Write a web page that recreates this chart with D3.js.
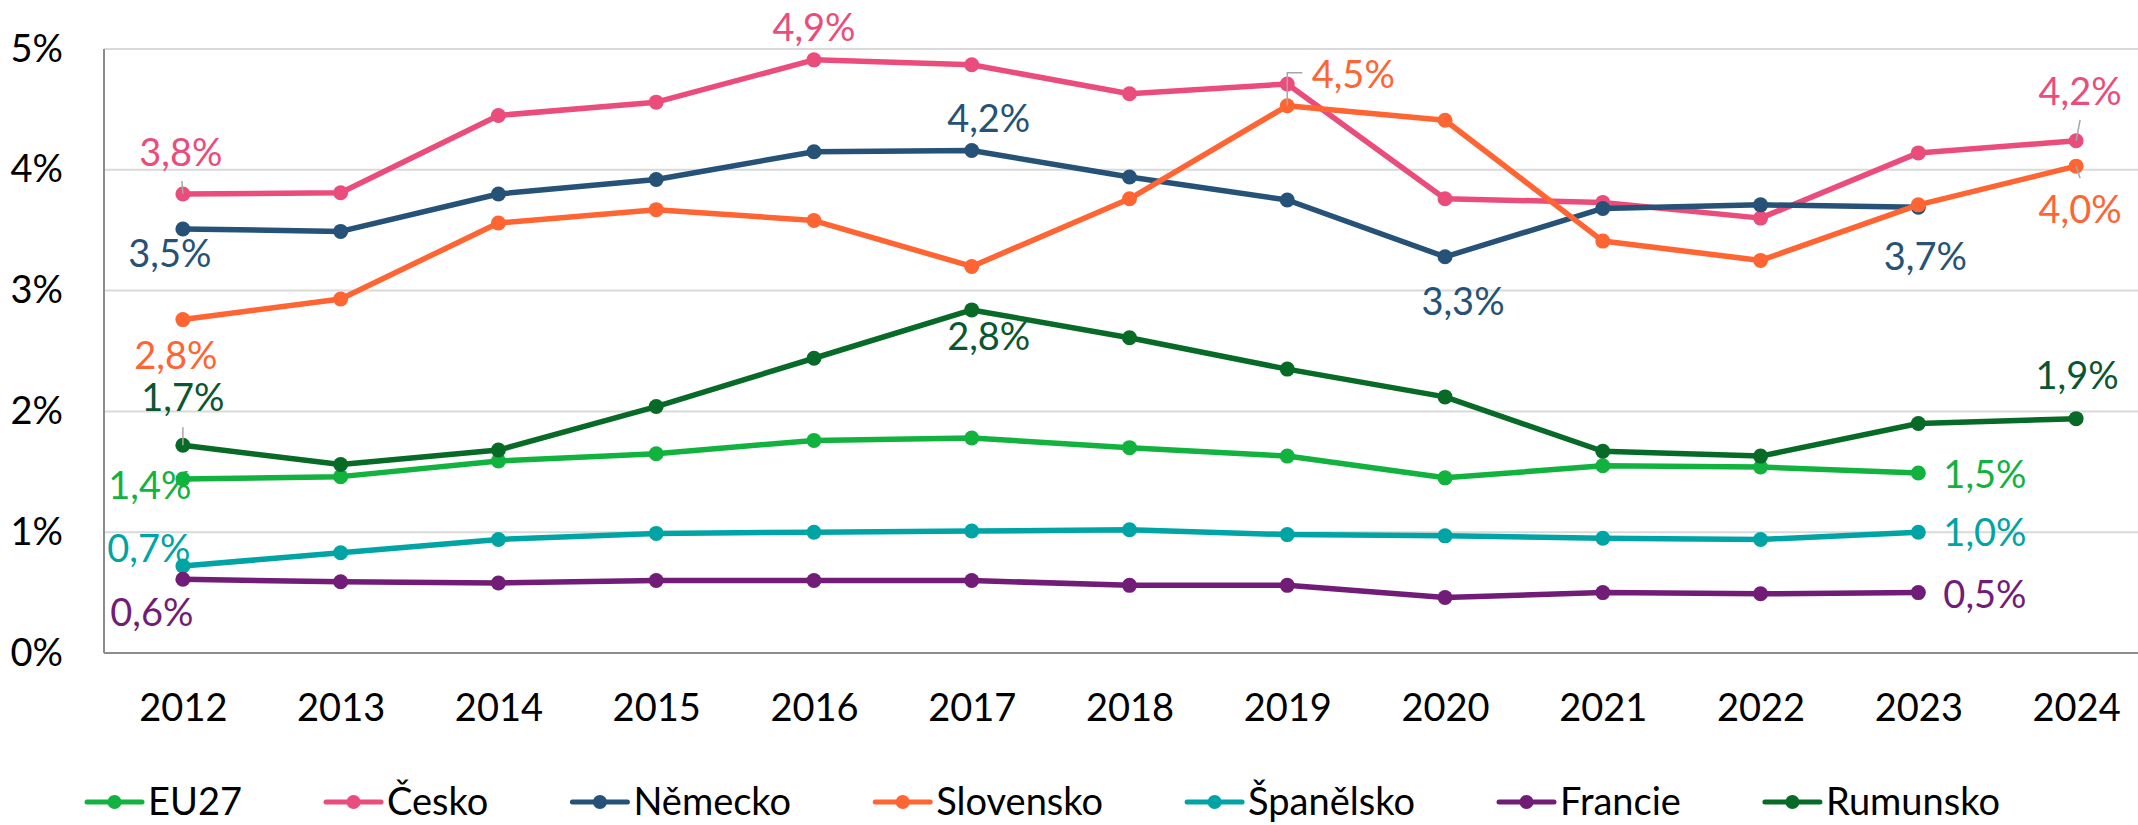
<!DOCTYPE html>
<html>
<head>
<meta charset="utf-8">
<script src="https://cdn.jsdelivr.net/npm/d3@7"></script>
<style>
  body { margin: 0; background: #fff; }
  svg { display: block; font-family: Lato, "Open Sans", sans-serif; }
</style>
</head>
<body>
<svg id="chart" width="2138" height="825"></svg>
<script>
// values in %, null where the year is missing
const years = [2012, 2013, 2014, 2015, 2016, 2017, 2018, 2019, 2020, 2021, 2022, 2023, 2024];
const eu27      = [1.44, 1.46, 1.59, 1.65, 1.76, 1.78, 1.70, 1.63, 1.45, 1.55, 1.54, 1.49, null];
const cesko     = [3.80, 3.81, 4.45, 4.56, 4.91, 4.87, 4.63, 4.71, 3.76, 3.73, 3.60, 4.14, 4.24];
const nemecko   = [3.51, 3.49, 3.80, 3.92, 4.15, 4.16, 3.94, 3.75, 3.28, 3.68, 3.71, 3.69, null];
const slovensko = [2.76, 2.93, 3.56, 3.67, 3.58, 3.20, 3.76, 4.53, 4.41, 3.41, 3.25, 3.71, 4.03];
const spanelsko = [0.72, 0.83, 0.94, 0.99, 1.00, 1.01, 1.02, 0.98, 0.97, 0.95, 0.94, 1.00, null];
const francie   = [0.61, 0.59, 0.58, 0.60, 0.60, 0.60, 0.56, 0.56, 0.46, 0.50, 0.49, 0.50, null];
const rumunsko  = [1.72, 1.56, 1.68, 2.04, 2.44, 2.84, 2.61, 2.35, 2.12, 1.67, 1.63, 1.90, 1.94];
const yTicks = [0, 1, 2, 3, 4, 5];

const series = [
  { name: 'EU27',      values: eu27,      color: '#12B23F', text: '#12B23F' },
  { name: 'Česko',     values: cesko,     color: '#EA4D7C', text: '#EA4D7C' },
  { name: 'Německo',   values: nemecko,   color: '#255276', text: '#255276' },
  { name: 'Slovensko', values: slovensko, color: '#FF6433', text: '#FF6433' },
  { name: 'Španělsko', values: spanelsko, color: '#00A4A4', text: '#00A4A4' },
  { name: 'Francie',   values: francie,   color: '#711D78', text: '#711D78' },
  { name: 'Rumunsko',  values: rumunsko,  color: '#086A27', text: '#0B5632' }
];

// where the data labels sit, relative to their point
const labelSpots = [
  { s: 'Česko', year: 2012, dx: -2, dy: -28, leader: [[0, 0], [-1, -13]] },
  { s: 'Česko', year: 2016, dx: 0, dy: -19 },
  { s: 'Česko', year: 2024, dx: 4, dy: -36, leader: [[0, 0], [4, -21]] },
  { s: 'Německo', year: 2012, dx: -13, dy: 38 },
  { s: 'Německo', year: 2017, dx: 17, dy: -18 },
  { s: 'Německo', year: 2020, dx: 18, dy: 58 },
  { s: 'Německo', year: 2023, dx: 7, dy: 63 },
  { s: 'Slovensko', year: 2012, dx: -7, dy: 49 },
  { s: 'Slovensko', year: 2019, dx: 66, dy: -18, leader: [[0, 0], [0, -33], [15, -33]] },
  { s: 'Slovensko', year: 2024, dx: 4, dy: 57, leader: [[0, 0], [4, 12]] },
  { s: 'Rumunsko', year: 2012, dx: 0, dy: -34, leader: [[0, 0], [0, -18]] },
  { s: 'Rumunsko', year: 2017, dx: 17, dy: 40 },
  { s: 'Rumunsko', year: 2024, dx: 1, dy: -30 },
  { s: 'EU27', year: 2012, dx: -33, dy: 20 },
  { s: 'EU27', year: 2023, dx: 25, dy: 15, anchor: 'start' },
  { s: 'Španělsko', year: 2012, dx: -34, dy: -4 },
  { s: 'Španělsko', year: 2023, dx: 25, dy: 14, anchor: 'start' },
  { s: 'Francie', year: 2012, dx: -31, dy: 47 },
  { s: 'Francie', year: 2023, dx: 25, dy: 15, anchor: 'start' }
];

const FONT = 38;
const svg = d3.select('#chart');
const plot = { left: 104, right: 2155, top: 49, bottom: 653 };

const x = d3.scalePoint().domain(years).range([plot.left, plot.right]).padding(0.5);
const y = d3.scaleLinear().domain([0, 5]).range([plot.bottom, plot.top]);
const fmt = (v) => d3.format('.1f')(v).replace('.', ',') + '%';

// grid
svg.append('g')
  .selectAll('line')
  .data(yTicks.filter((d) => d > 0))
  .enter().append('line')
  .attr('x1', plot.left).attr('x2', plot.right)
  .attr('y1', (d) => y(d)).attr('y2', (d) => y(d))
  .attr('stroke', '#D9D9D9').attr('stroke-width', 2);

// axes
const yAxis = svg.append('g')
  .attr('transform', `translate(${plot.left},0)`)
  .call(d3.axisLeft(y).tickValues(yTicks).tickFormat((d) => d + '%').tickSize(0).tickPadding(41));
yAxis.select('.domain').remove();

const xAxis = svg.append('g')
  .attr('transform', `translate(0,${plot.bottom})`)
  .call(d3.axisBottom(x).tickSize(0).tickPadding(41));
xAxis.select('.domain').remove();

svg.selectAll('.tick text')
  .attr('font-family', 'Lato, "Open Sans", sans-serif')
  .attr('font-size', FONT)
  .attr('fill', '#000');

svg.append('line')
  .attr('x1', plot.left).attr('x2', plot.left)
  .attr('y1', plot.top).attr('y2', plot.bottom)
  .attr('stroke', '#8C8C8C').attr('stroke-width', 2);
svg.append('line')
  .attr('x1', plot.left).attr('x2', plot.right)
  .attr('y1', plot.bottom).attr('y2', plot.bottom)
  .attr('stroke', '#8C8C8C').attr('stroke-width', 2);

// lines + markers
const line = d3.line()
  .defined((d) => d.v != null)
  .x((d) => x(d.year))
  .y((d) => y(d.v));

series.forEach((s) => {
  const pts = years.map((year, i) => ({ year, v: s.values[i] }));
  const g = svg.append('g').attr('class', 'series');
  g.append('path')
    .attr('d', line(pts))
    .attr('fill', 'none')
    .attr('stroke', s.color)
    .attr('stroke-width', 5.5)
    .attr('stroke-linejoin', 'round');
  g.selectAll('circle')
    .data(pts.filter((d) => d.v != null))
    .enter().append('circle')
    .attr('cx', (d) => x(d.year))
    .attr('cy', (d) => y(d.v))
    .attr('r', 7.5)
    .attr('fill', s.color);
});

// data labels
const byName = {};
series.forEach((s) => { byName[s.name] = s; });

labelSpots.forEach((l) => {
  const s = byName[l.s];
  const v = s.values[years.indexOf(l.year)];
  const px = x(l.year), py = y(v);
  if (l.leader) {
    svg.append('path')
      .attr('d', d3.line()(l.leader.map((p) => [px + p[0], py + p[1]])))
      .attr('fill', 'none')
      .attr('stroke', '#A6A6A6')
      .attr('stroke-width', 1.5);
  }
  svg.append('text')
    .attr('x', px + l.dx)
    .attr('y', py + l.dy)
    .attr('text-anchor', l.anchor || 'middle')
    .attr('font-size', FONT)
    .attr('fill', s.text)
    .text(fmt(v));
});

// legend
const legend = svg.append('g').attr('class', 'legend');
const items = legend.selectAll('g')
  .data(series)
  .enter().append('g');

items.append('line')
  .attr('x1', 0).attr('x2', 55)
  .attr('y1', 0).attr('y2', 0)
  .attr('stroke', (d) => d.color)
  .attr('stroke-width', 5)
  .attr('stroke-linecap', 'round');
items.append('circle')
  .attr('cx', 27.5).attr('cy', 0).attr('r', 7)
  .attr('fill', (d) => d.color);
items.append('text')
  .attr('x', 61)
  .attr('y', 13)
  .attr('font-size', FONT)
  .attr('fill', '#000')
  .text((d) => d.name);

const widths = [];
items.each(function() { widths.push(this.getBBox().width); });
const legendLeft = 87, legendRight = 2000;
const gap = (legendRight - legendLeft - d3.sum(widths)) / (widths.length - 1);
let cursor = legendLeft;
items.attr('transform', (d, i) => {
  const t = `translate(${cursor},802)`;
  cursor += widths[i] + gap;
  return t;
});
</script>
</body>
</html>
